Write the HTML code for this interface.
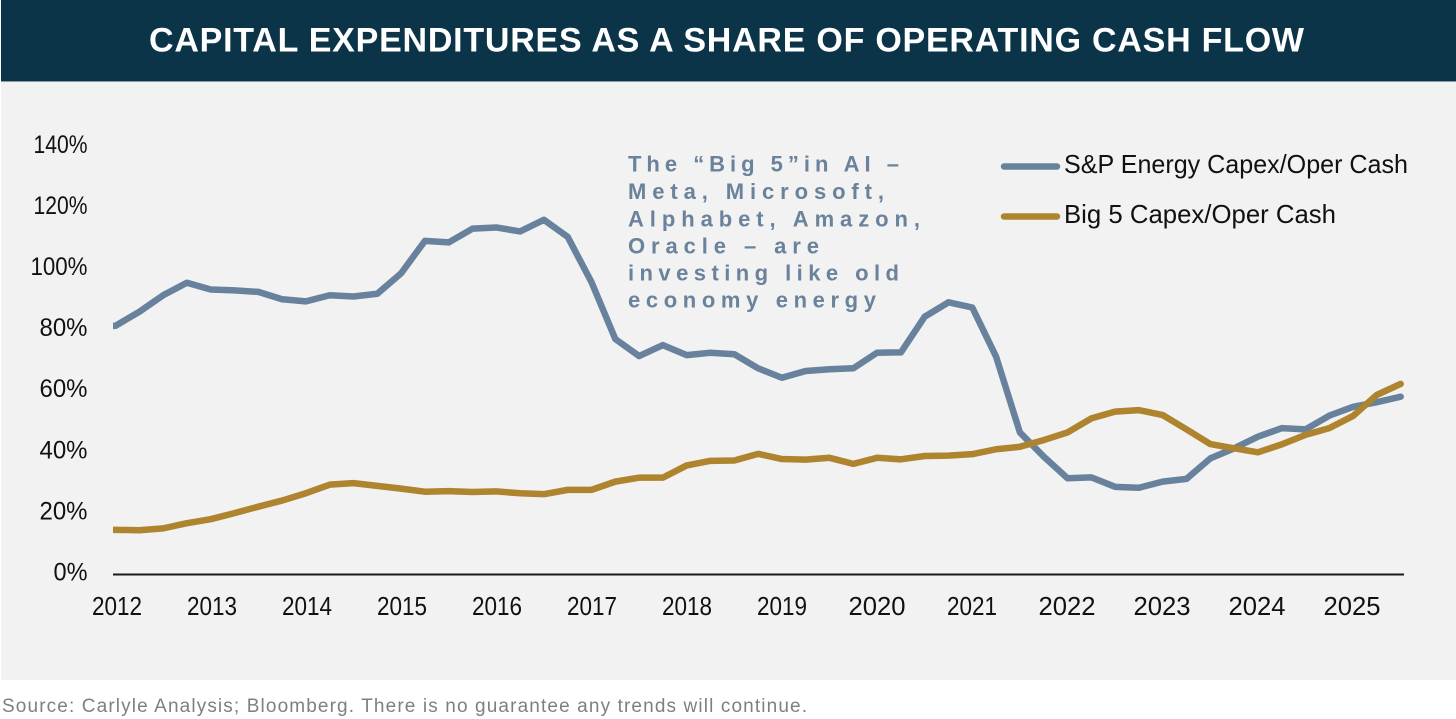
<!DOCTYPE html>
<html lang="en">
<head>
<meta charset="utf-8">
<title>Capital Expenditures as a Share of Operating Cash Flow</title>
<style>
html,body{margin:0;padding:0;background:#fff;}
body{width:1456px;height:719px;overflow:hidden;}
svg{display:block;font-family:"Liberation Sans",sans-serif;}
</style>
</head>
<body>
<svg id="chart" width="1456" height="719" viewBox="0 0 1456 719" xmlns="http://www.w3.org/2000/svg">
  <defs>
    <clipPath id="plot-clip"><rect x="113" y="90" width="1310" height="500"/></clipPath>
  </defs>
  <rect x="0" y="0" width="1456" height="719" fill="#ffffff"/>
  <rect x="1" y="82" width="1455" height="598" fill="#f2f2f2"/>
  <rect x="1" y="0" width="1455" height="81.5" fill="#0c3448"/>
  <text x="149" y="51.5" font-size="34" font-weight="700" fill="#ffffff" textLength="1155" lengthAdjust="spacing">CAPITAL EXPENDITURES AS A SHARE OF OPERATING CASH FLOW</text>

  <g id="y-axis"></g>
  <g id="x-axis"></g>
  <g id="series" clip-path="url(#plot-clip)"></g>

  <g font-size="22" font-weight="700" fill="#6a829b">
    <text x="628" y="171.5" textLength="271" lengthAdjust="spacing">The “Big 5”in AI –</text>
    <text x="628" y="199" textLength="256" lengthAdjust="spacing">Meta, Microsoft,</text>
    <text x="628" y="226.5" textLength="292" lengthAdjust="spacing">Alphabet, Amazon,</text>
    <text x="628" y="253.5" textLength="191" lengthAdjust="spacing">Oracle – are</text>
    <text x="628" y="280.5" textLength="271" lengthAdjust="spacing">investing like old</text>
    <text x="628" y="307.5" textLength="248" lengthAdjust="spacing">economy energy</text>
  </g>

  <g>
    <line x1="1004" y1="166.5" x2="1057" y2="166.5" stroke="#68829e" stroke-width="6.5" stroke-linecap="round"/>
    <text x="1064" y="173" font-size="26" fill="#111111" textLength="344" lengthAdjust="spacingAndGlyphs">S&amp;P Energy Capex/Oper Cash</text>
    <line x1="1004" y1="216.5" x2="1057" y2="216.5" stroke="#ae842f" stroke-width="6.5" stroke-linecap="round"/>
    <text x="1064" y="223" font-size="26" fill="#111111" textLength="272" lengthAdjust="spacingAndGlyphs">Big 5 Capex/Oper Cash</text>
  </g>

  <text x="2" y="712" font-size="19" fill="#7f7f7f" textLength="805" lengthAdjust="spacing">Source: Carlyle Analysis; Bloomberg. There is no guarantee any trends will continue.</text>
</svg>
<script>
var yearLabels = ["2012","2013","2014","2015","2016","2017","2018","2019","2020","2021","2022","2023","2024","2025"];
var yTickValues = [0,20,40,60,80,100,120,140];
var energyCapex = [81.4,86,91.4,95.5,93.3,93,92.5,90.1,89.4,91.4,91,91.9,98.6,109.2,108.7,113.2,113.6,112.3,116.1,110.5,95.7,77.1,71.5,75.1,71.8,72.6,72.1,67.5,64.4,66.6,67.2,67.5,72.6,72.7,84.4,89.1,87.4,71.3,46.5,38.6,31.5,31.8,28.7,28.4,30.4,31.3,38,41.3,45.1,47.9,47.5,52,54.9,56.4,58.2];
var big5Capex = [14.6,14.5,15.1,16.8,18.1,20.1,22.2,24.2,26.6,29.4,29.9,29,28.1,27.1,27.3,27,27.2,26.6,26.3,27.7,27.7,30.4,31.7,31.7,35.7,37.2,37.3,39.5,37.8,37.6,38.2,36.2,38.2,37.7,38.8,38.9,39.4,41,41.8,44,46.5,51.1,53.3,53.8,52.2,47.5,42.7,41.3,40,42.6,45.7,47.9,51.9,58.8,62.4];

var NS = "http://www.w3.org/2000/svg";
function xScale(i){ return 115.5 + 23.8 * i; }
function yScale(v){ return 574.5 - 3.055 * v; }
function yearX(k){ return 117 + 95 * k; }
function yLabelWidth(v){
  if (v === 0) return 34;
  if (v === 100) return 57;
  return v > 100 ? 54 : 48;
}
function yearLabelWidth(label){
  return label.slice(2).indexOf("1") >= 0 ? 50 : 57;
}
function linePath(values){
  /* lead-in past the clip edge so the line starts with a straight vertical cut */
  var d = "M" + (xScale(0) - 6).toFixed(2) + " " + yScale(values[0]).toFixed(2);
  for (var i = 0; i < values.length; i++) {
    d += "L" + xScale(i).toFixed(2) + " " + yScale(values[i]).toFixed(2);
  }
  return d;
}

var yAxis = document.getElementById("y-axis");
yTickValues.forEach(function(v){
  var t = document.createElementNS(NS, "text");
  
  
  t.setAttribute("x", 87.5);
  t.setAttribute("y", yScale(v) + 6);
  t.setAttribute("text-anchor", "end");
  t.setAttribute("font-size", "25");
  t.setAttribute("fill", "#111111");
  t.setAttribute("textLength", yLabelWidth(v));
  t.setAttribute("lengthAdjust", "spacingAndGlyphs");
  t.textContent = v + "%";
  yAxis.appendChild(t);
});

var xAxis = document.getElementById("x-axis");
var axisLine = document.createElementNS(NS, "line");


axisLine.setAttribute("x1", 113);
axisLine.setAttribute("x2", 1404);
axisLine.setAttribute("y1", yScale(0));
axisLine.setAttribute("y2", yScale(0));
axisLine.setAttribute("stroke", "#1a1a1a");
axisLine.setAttribute("stroke-width", "2");
xAxis.appendChild(axisLine);

yearLabels.forEach(function(label, k){
  var t = document.createElementNS(NS, "text");
  
  
  t.setAttribute("x", yearX(k));
  t.setAttribute("y", 615);
  t.setAttribute("text-anchor", "middle");
  t.setAttribute("font-size", "26");
  t.setAttribute("fill", "#111111");
  t.setAttribute("textLength", yearLabelWidth(label));
  t.setAttribute("lengthAdjust", "spacingAndGlyphs");
  t.textContent = label;
  xAxis.appendChild(t);
});

var seriesGroup = document.getElementById("series");
var energyLine = document.createElementNS(NS, "path");


energyLine.setAttribute("d", linePath(energyCapex));
energyLine.setAttribute("fill", "none");
energyLine.setAttribute("stroke", "#68829e");
energyLine.setAttribute("stroke-width", "6.5");
energyLine.setAttribute("stroke-linecap", "round");
energyLine.setAttribute("stroke-linejoin", "round");
seriesGroup.appendChild(energyLine);

var big5Line = document.createElementNS(NS, "path");


big5Line.setAttribute("d", linePath(big5Capex));
big5Line.setAttribute("fill", "none");
big5Line.setAttribute("stroke", "#ae842f");
big5Line.setAttribute("stroke-width", "6.5");
big5Line.setAttribute("stroke-linecap", "round");
big5Line.setAttribute("stroke-linejoin", "round");
seriesGroup.appendChild(big5Line);
</script>
</body>
</html>
